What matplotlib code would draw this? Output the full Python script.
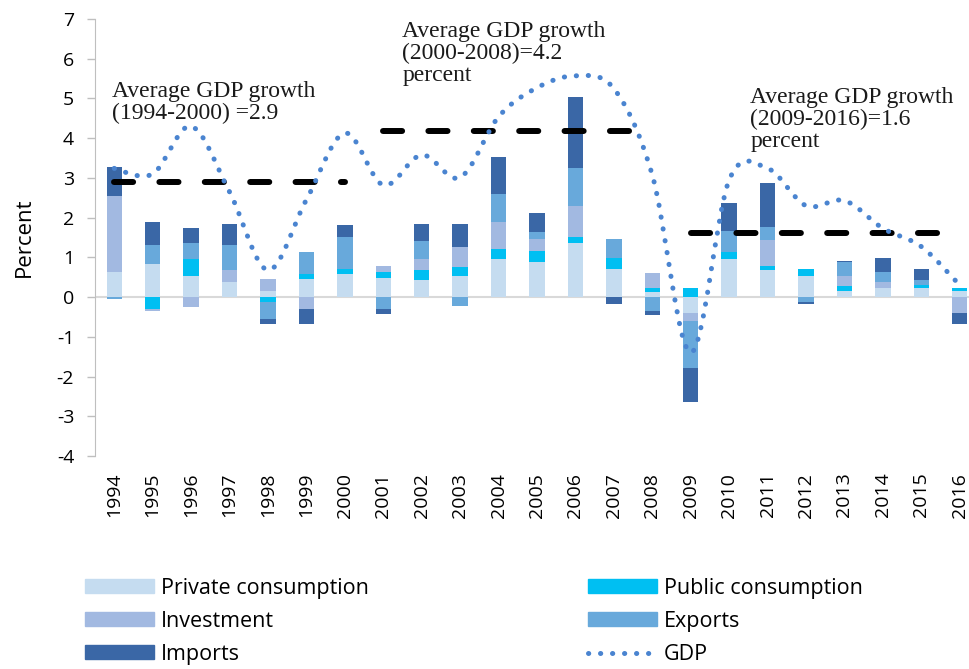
import numpy as np
import matplotlib
matplotlib.use("Agg")
import matplotlib.pyplot as plt
from matplotlib.path import Path
from matplotlib.patches import PathPatch, Patch
from matplotlib.lines import Line2D

plt.rcParams["axes.unicode_minus"] = False

# Dados: contribuições ao crescimento do PIB (pontos percentuais)
anos = [str(a) for a in range(1994, 2017)]
consumo_privado = [0.64, 0.83, 0.54, 0.37, 0.16, 0.45, 0.58, 0.49, 0.43, 0.52, 0.97, 0.89,
                   1.37, 0.70, 0.13, -0.40, 0.97, 0.67, 0.52, 0.16, 0.22, 0.24, 0.16]
consumo_publico = [0.0, -0.30, 0.41, 0.0, -0.12, 0.14, 0.12, 0.15, 0.24, 0.25, 0.25, 0.27,
                   0.14, 0.28, 0.11, 0.24, 0.16, 0.12, 0.18, 0.11, 0.02, 0.07, 0.08]
investimento = [1.90, -0.06, -0.24, 0.30, 0.29, -0.30, 0.0, 0.15, 0.28, 0.49, 0.68, 0.30,
                0.79, 0.0, 0.36, -0.19, 0.0, 0.65, 0.0, 0.25, 0.13, 0.0, -0.40]
exportacoes = [-0.05, 0.48, 0.42, 0.64, -0.43, 0.54, 0.82, -0.30, 0.46, -0.22, 0.70, 0.19,
               0.96, 0.48, -0.36, -1.19, 0.54, 0.33, -0.13, 0.37, 0.27, 0.12, 0.0]
importacoes = [0.74, 0.59, 0.38, 0.52, -0.12, -0.37, 0.29, -0.12, 0.42, 0.57, 0.92, 0.46,
               1.77, -0.18, -0.10, -0.86, 0.69, 1.11, -0.05, 0.03, 0.34, 0.27, -0.27]
pib = [3.24, 3.1, 4.3, 2.65, 0.68, 2.45, 4.13, 2.82, 3.58, 3.01, 4.54, 5.27,
       5.57, 5.25, 3.07, -1.4, 2.95, 3.24, 2.3, 2.43, 1.73, 1.27, 0.3]

# Médias por período
media_inicio = ["1994", "2001", "2009"]
media_fim = ["2000", "2008", "2016"]
media_valor = [2.9, 4.17, 1.61]
media_textos = ["Average GDP growth\n(1994-2000) =2.9",
                "Average GDP growth\n(2000-2008)=4.2\npercent",
                "Average GDP growth\n(2009-2016)=1.6\npercent"]

series = [
    ("Private consumption", consumo_privado, "#C5DCF0"),
    ("Public consumption", consumo_publico, "#00BFF2"),
    ("Investment", investimento, "#A2B9E1"),
    ("Exports", exportacoes, "#68A9DB"),
    ("Imports", importacoes, "#3A67A6"),
]
cor_pib = "#4A84D0"
fonte = "Open Sans"

fig = plt.figure(figsize=(9.7, 6.69), dpi=100)
ax = fig.add_axes([95 / 970, (669 - 456) / 669, (979 - 95) / 970, (456 - 19) / 669])

x = np.arange(len(anos))
base_pos = np.zeros(len(anos))
base_neg = np.zeros(len(anos))
for nome, valores, cor in series:
    v = np.array(valores)
    pos = np.where(v > 0, v, 0)
    neg = np.where(v < 0, v, 0)
    ax.bar(x, pos, bottom=base_pos, width=0.4, color=cor, zorder=2)
    ax.bar(x, neg, bottom=base_neg, width=0.4, color=cor, zorder=2)
    base_pos += pos
    base_neg += neg

# linhas das médias
for ini, fim, val in zip(media_inicio, media_fim, media_valor):
    ax.plot([anos.index(ini), anos.index(fim)], [val, val], color="black", lw=4.3,
            linestyle=(0, (3.2, 4.4)), dash_capstyle="round", zorder=3)

# linha suavizada do PIB (spline Catmull-Rom como no Excel)
pts = np.column_stack([x, pib]).astype(float)
ext = np.vstack([pts[0], pts, pts[-1]])
verts = [pts[0]]
codes = [Path.MOVETO]
for i in range(1, len(ext) - 2):
    p0, p1, p2, p3 = ext[i - 1], ext[i], ext[i + 1], ext[i + 2]
    verts += [p1 + (p2 - p0) / 6, p2 - (p3 - p1) / 6, p2]
    codes += [Path.CURVE4] * 3
ax.add_patch(PathPatch(Path(verts, codes), fill=False, edgecolor=cor_pib, lw=3.6,
                       linestyle=(0, (0.05, 2.35)), capstyle="round", zorder=4))

# textos das médias
text_pos = [(-0.05, 5.43), (7.5, 6.94), (16.55, 5.28)]
for (tx, ty), txt in zip(text_pos, media_textos):
    ax.text(tx, ty, txt, ha="left", va="top", fontsize=17, family="Liberation Serif",
            linespacing=1.05, color="#1a1a1a", zorder=5)

ax.axhline(0, color="#D9D9D9", lw=1.5, zorder=1)
ax.set_xlim(-0.5, len(anos) - 0.5)
ax.set_ylim(-4, 7)
ax.set_yticks(range(-4, 8))
ax.set_xticks(x)
ax.set_xticklabels(anos, rotation=90, fontsize=14, family=fonte)
for lbl in ax.get_yticklabels():
    lbl.set_fontsize(14)
    lbl.set_family(fonte)
ax.tick_params(axis="x", length=0, pad=12)
ax.tick_params(axis="y", length=6, width=1, color="#BFBFBF", pad=9)
for lado in ["top", "right", "bottom"]:
    ax.spines[lado].set_visible(False)
ax.spines["left"].set_color("#BFBFBF")
ax.set_ylabel("Percent", fontsize=16, family=fonte, labelpad=16)

# legenda
h = {nome: Patch(color=cor) for nome, _, cor in series}
h["GDP"] = Line2D([0], [0], color=cor_pib, lw=3.6, linestyle=(0, (0.05, 2.35)),
                  dash_capstyle="round")
ordem = ["Private consumption", "Investment", "Imports", "Public consumption", "Exports", "GDP"]
fig.legend([h[n] for n in ordem], ordem, loc="upper left", bbox_to_anchor=(76 / 970, 1 - 569 / 669),
           ncol=2, frameon=False, prop={"family": fonte, "size": 15.5},
           handlelength=3.2, handleheight=0.6, handletextpad=0.33, labelspacing=0.56,
           columnspacing=10.2, borderaxespad=0)

fig.savefig("out.png", dpi=100)
